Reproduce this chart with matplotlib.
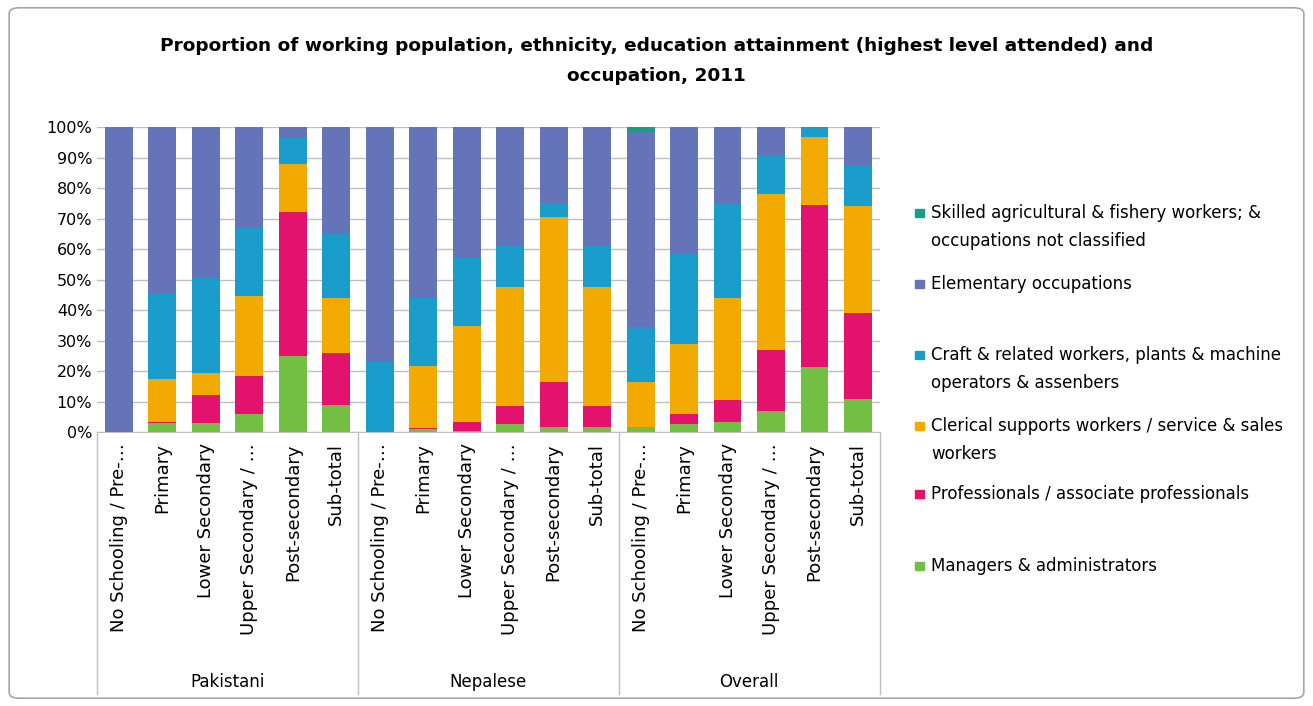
import numpy as np
import matplotlib.pyplot as plt
from matplotlib.patches import FancyBboxPatch, Rectangle

plt.rcParams['font.family'] = ['DejaVu Sans']

# Категории
groups = ["Pakistani", "Nepalese", "Overall"]
levels = ["No Schooling / Pre-…", "Primary", "Lower Secondary",
          "Upper Secondary / …", "Post-secondary", "Sub-total"]

# Доли (%) по группам: Pakistani, Nepalese, Overall (по 6 уровней)
managers = [0, 3, 3, 6, 25, 9,
            0, 1, 0.5, 2.5, 1.5, 1.5,
            1.5, 2.8, 3.4, 7, 21.4, 11]
professionals = [0, 0.3, 9, 12.5, 47, 17,
                 0, 0.3, 2.7, 6, 15, 7,
                 0.3, 3, 7, 20, 53, 28]
clerical = [0, 14, 7.5, 26, 16, 18,
            0, 20.5, 31.5, 39, 54, 39,
            14.7, 23, 33.5, 51, 22.5, 35]
craft = [0, 28, 31, 22.5, 8.5, 21,
         23, 22, 22.5, 14, 4.5, 14,
         18, 29.5, 31.3, 13, 2.7, 13.4]
elementary = [100, 54.7, 49.5, 33, 3.5, 35,
              77, 56.2, 42.8, 38.5, 25, 38.5,
              64, 41.7, 24.8, 9, 0.4, 12.6]
skilled = [0, 0, 0, 0, 0, 0,
           0, 0, 0, 0, 0, 0,
           1.5, 0, 0, 0, 0, 0]

series = [
    ("Managers & administrators", managers, "#72bf44"),
    ("Professionals / associate professionals", professionals, "#e2126d"),
    ("Clerical supports workers / service & sales\nworkers", clerical, "#f2a900"),
    ("Craft & related workers, plants & machine\noperators & assenbers", craft, "#1b9dcc"),
    ("Elementary occupations", elementary, "#6574b9"),
    ("Skilled agricultural & fishery workers; &\noccupations not classified", skilled, "#16a083"),
]

fig = plt.figure(figsize=(13.13, 7.06), dpi=100)
ax = fig.add_axes([0.074, 0.388, 0.596, 0.432])

x = np.arange(len(groups) * len(levels))
bottom = np.zeros(len(x))
for name, vals, col in series:
    vals = np.array(vals, dtype=float)
    ax.bar(x, vals, 0.64, bottom=bottom, color=col, label=name, zorder=3)
    bottom += vals

ax.set_xlim(-0.5, len(x) - 0.5)
ax.set_ylim(0, 100)
ax.set_yticks(np.arange(0, 101, 10))
ax.set_yticklabels([f"{v}%" for v in range(0, 101, 10)], fontsize=11.5)
ax.yaxis.grid(True, color="#bfbfbf", lw=1, zorder=0)
ax.set_xticks(x)
ax.set_xticklabels(levels * len(groups), rotation=90, fontsize=13)
ax.tick_params(axis="both", length=0)
ax.tick_params(axis="x", pad=8)
for s in ["top", "right", "left"]:
    ax.spines[s].set_visible(False)
ax.spines["bottom"].set_color("#bfbfbf")

# разделители групп и подписи групп
for i in range(len(groups) + 1):
    ax.plot([i * 6 - 0.5] * 2, [0, -86], color="#bfbfbf", lw=1, clip_on=False)
for i, g in enumerate(groups):
    ax.text(i * 6 + 2.5, -82, g, ha="center", va="center", fontsize=12)

fig.text(0.50, 0.935, "Proportion of working population, ethnicity, education attainment (highest level attended) and",
         ha="center", va="center", fontsize=13.3, fontweight="bold")
fig.text(0.50, 0.893, "occupation, 2011", ha="center", va="center", fontsize=13.3, fontweight="bold")

# легенда
legend_y = [213, 284, 355, 426, 494, 566]
for (name, vals, col), yy in zip(series[::-1], legend_y):
    fy = 1 - yy / 706
    fig.patches.append(Rectangle((915 / 1313, fy - 0.006), 0.0065, 0.012,
                                 transform=fig.transFigure, color=col))
    fig.text(931 / 1313, fy + 0.013, name, ha="left", va="top", fontsize=12,
             linespacing=1.75)

fig.patches.append(FancyBboxPatch((0.007, 0.011), 0.986, 0.978,
                                  boxstyle="round,pad=0,rounding_size=0.008",
                                  transform=fig.transFigure, fill=False,
                                  ec="#a6a6a6", lw=1.2))

plt.savefig("out.png", dpi=100)
